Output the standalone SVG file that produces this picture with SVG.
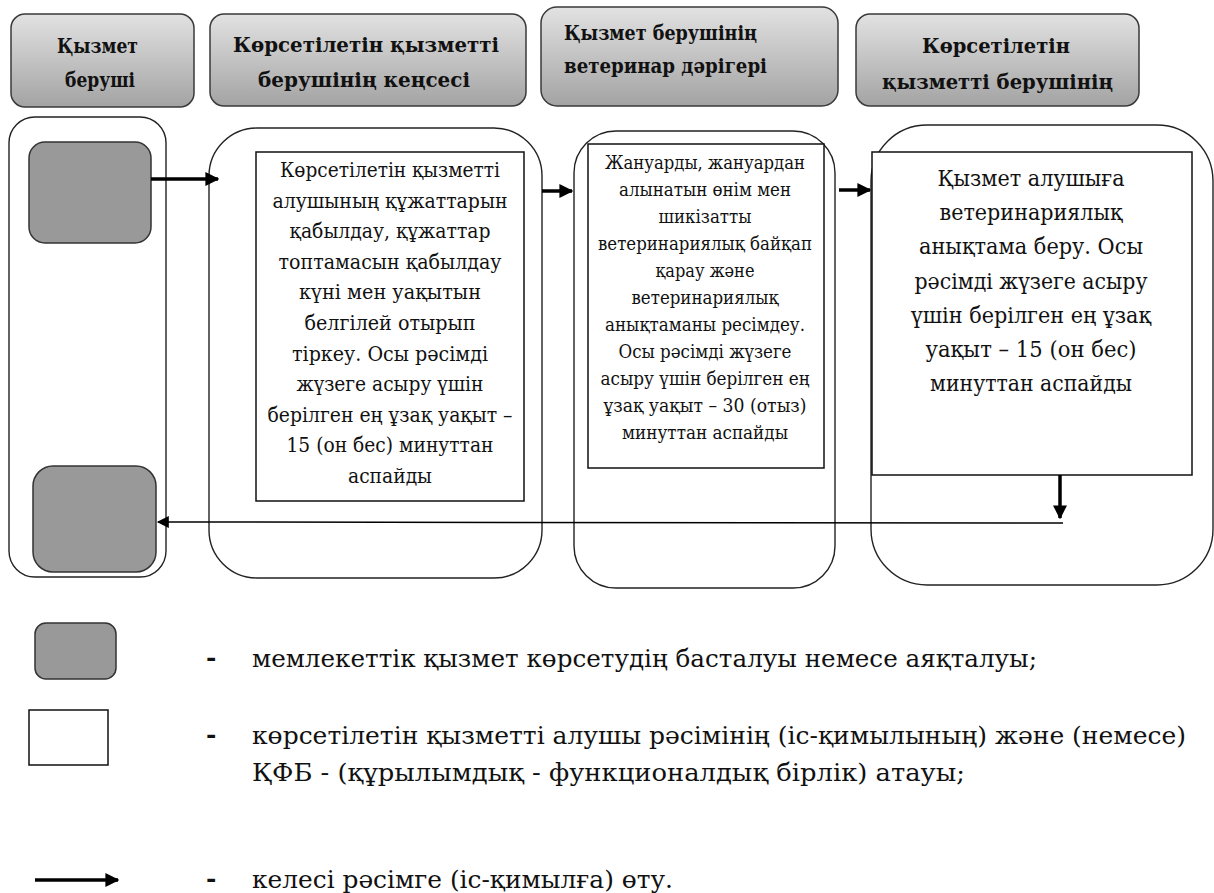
<svg xmlns="http://www.w3.org/2000/svg" width="1214" height="893" viewBox="0 0 1214 893">
<defs>
<linearGradient id="hg" x1="0" y1="0" x2="0" y2="1">
<stop offset="0" stop-color="#e2e2e2"/>
<stop offset="1" stop-color="#a3a3a3"/>
</linearGradient>
<marker id="ah" viewBox="0 0 10 10" refX="9" refY="5" markerWidth="4" markerHeight="4" orient="auto" markerUnits="strokeWidth">
<path d="M0,0 L10,5 L0,10 z" fill="#000"/>
</marker>
<marker id="ah2" viewBox="0 0 10 10" refX="9" refY="5" markerWidth="9" markerHeight="8" orient="auto" markerUnits="strokeWidth">
<path d="M0,0 L10,5 L0,10 z" fill="#000"/>
</marker>
</defs>
<style>
text{font-family:'DejaVu Serif','Liberation Serif',serif;fill:#111}
.hdr{fill:url(#hg);stroke:#3a3a3a;stroke-width:1.5}
.ht{font-weight:bold;font-size:21px}
.lane{fill:none;stroke:#222;stroke-width:1.4}
.gbox{fill:#999;stroke:#333;stroke-width:1.5}
.tbox{fill:#fff;stroke:#111;stroke-width:1.5}
.t2{font-size:20px;text-anchor:middle}
.t3{font-size:18px;text-anchor:middle}
.t4{font-size:22px;text-anchor:middle}
.lg{font-size:25px}
.thick{stroke:#000;stroke-width:3.5;fill:none}
.thin{stroke:#000;stroke-width:1.5;fill:none}
</style>
<rect width="1214" height="893" fill="#fff"/>

<g id="header-1">
<rect class="hdr" x="11" y="14" width="183" height="93" rx="14"/>
<text class="ht" x="57" y="53" textLength="81" lengthAdjust="spacingAndGlyphs">Қызмет</text>
<text class="ht" x="65" y="87" textLength="70" lengthAdjust="spacingAndGlyphs">беруші</text>
</g>
<g id="header-2">
<rect class="hdr" x="210" y="14" width="316" height="92" rx="14"/>
<text class="ht" x="233" y="52" textLength="266" lengthAdjust="spacingAndGlyphs">Көрсетілетін қызметті</text>
<text class="ht" x="258" y="87" textLength="212" lengthAdjust="spacingAndGlyphs">берушінің кеңсесі</text>
</g>
<g id="header-3">
<rect class="hdr" x="541" y="7" width="297" height="99" rx="16"/>
<text class="ht" x="564" y="40" textLength="193" lengthAdjust="spacingAndGlyphs">Қызмет берушінің</text>
<text class="ht" x="564" y="73" textLength="203" lengthAdjust="spacingAndGlyphs">ветеринар дәрігері</text>
</g>
<g id="header-4">
<rect class="hdr" x="856" y="14" width="283" height="92" rx="14"/>
<text class="ht" x="922" y="53" textLength="148" lengthAdjust="spacingAndGlyphs">Көрсетілетін</text>
<text class="ht" x="882" y="89" textLength="231" lengthAdjust="spacingAndGlyphs">қызметті берушінің</text>
</g>

<g id="lane-1"><rect class="lane" x="9" y="117" width="157" height="460" rx="26" stroke="#555"/></g>
<g id="lane-2"><rect class="lane" x="209" y="128" width="333" height="450" rx="48"/></g>
<g id="lane-3"><rect class="lane" x="574" y="131" width="261" height="457" rx="42"/></g>
<g id="lane-4"><rect class="lane" x="871" y="125" width="342" height="460" rx="56"/></g>

<g id="start"><rect class="gbox" x="29" y="142" width="122" height="101" rx="16"/></g>
<g id="end"><rect class="gbox" x="33" y="466" width="123" height="106" rx="20"/></g>

<g id="step-1">
<rect class="tbox" x="256" y="152" width="268" height="349"/>
<text class="t2" x="390" y="177" textLength="220" lengthAdjust="spacingAndGlyphs">Көрсетілетін қызметті</text>
<text class="t2" x="390" y="208" textLength="235" lengthAdjust="spacingAndGlyphs">алушының құжаттарын</text>
<text class="t2" x="390" y="238" textLength="201" lengthAdjust="spacingAndGlyphs">қабылдау, құжаттар</text>
<text class="t2" x="390" y="269" textLength="223" lengthAdjust="spacingAndGlyphs">топтамасын қабылдау</text>
<text class="t2" x="390" y="299" textLength="182" lengthAdjust="spacingAndGlyphs">күні мен уақытын</text>
<text class="t2" x="390" y="330" textLength="171" lengthAdjust="spacingAndGlyphs">белгілей отырып</text>
<text class="t2" x="390" y="361" textLength="196" lengthAdjust="spacingAndGlyphs">тіркеу. Осы рәсімді</text>
<text class="t2" x="390" y="391" textLength="187" lengthAdjust="spacingAndGlyphs">жүзеге асыру үшін</text>
<text class="t2" x="390" y="422" textLength="245" lengthAdjust="spacingAndGlyphs">берілген ең ұзақ уақыт –</text>
<text class="t2" x="390" y="452" textLength="207" lengthAdjust="spacingAndGlyphs">15 (он бес) минуттан</text>
<text class="t2" x="390" y="483" textLength="84" lengthAdjust="spacingAndGlyphs">аспайды</text>
</g>
<g id="step-2">
<rect class="tbox" x="588" y="144" width="236" height="324"/>
<text class="t3" x="705" y="169" textLength="200" lengthAdjust="spacingAndGlyphs">Жануарды, жануардан</text>
<text class="t3" x="705" y="196" textLength="172" lengthAdjust="spacingAndGlyphs">алынатын өнім мен</text>
<text class="t3" x="705" y="223" textLength="93" lengthAdjust="spacingAndGlyphs">шикізатты</text>
<text class="t3" x="705" y="250" textLength="214" lengthAdjust="spacingAndGlyphs">ветеринариялық байқап</text>
<text class="t3" x="705" y="277" textLength="99" lengthAdjust="spacingAndGlyphs">қарау және</text>
<text class="t3" x="705" y="304" textLength="147" lengthAdjust="spacingAndGlyphs">ветеринариялық</text>
<text class="t3" x="705" y="331" textLength="200" lengthAdjust="spacingAndGlyphs">анықтаманы ресімдеу.</text>
<text class="t3" x="705" y="358" textLength="173" lengthAdjust="spacingAndGlyphs">Осы рәсімді жүзеге</text>
<text class="t3" x="705" y="385" textLength="209" lengthAdjust="spacingAndGlyphs">асыру үшін берілген ең</text>
<text class="t3" x="705" y="412" textLength="203" lengthAdjust="spacingAndGlyphs">ұзақ уақыт – 30 (отыз)</text>
<text class="t3" x="705" y="439" textLength="166" lengthAdjust="spacingAndGlyphs">минуттан аспайды</text>
</g>
<g id="step-3">
<rect class="tbox" x="872" y="152" width="320" height="323"/>
<text class="t4" x="1031" y="186" textLength="187" lengthAdjust="spacingAndGlyphs">Қызмет алушыға</text>
<text class="t4" x="1031" y="220" textLength="183" lengthAdjust="spacingAndGlyphs">ветеринариялық</text>
<text class="t4" x="1031" y="254" textLength="224" lengthAdjust="spacingAndGlyphs">анықтама беру. Осы</text>
<text class="t4" x="1031" y="289" textLength="233" lengthAdjust="spacingAndGlyphs">рәсімді жүзеге асыру</text>
<text class="t4" x="1031" y="323" textLength="240" lengthAdjust="spacingAndGlyphs">үшін берілген ең ұзақ</text>
<text class="t4" x="1031" y="357" textLength="211" lengthAdjust="spacingAndGlyphs">уақыт – 15 (он бес)</text>
<text class="t4" x="1031" y="391" textLength="202" lengthAdjust="spacingAndGlyphs">минуттан аспайды</text>
</g>

<g id="connectors">
<line class="thick" x1="151" y1="179" x2="218" y2="179" marker-end="url(#ah)"/>
<line class="thick" x1="542" y1="191" x2="572" y2="191" marker-end="url(#ah)"/>
<line class="thick" x1="839" y1="190" x2="870" y2="190" marker-end="url(#ah)"/>
<line class="thick" x1="1060" y1="475" x2="1060" y2="518" marker-end="url(#ah)"/>
<line class="thin" x1="1063" y1="523" x2="158" y2="522" marker-end="url(#ah2)"/>
</g>

<g id="legend">
<rect class="gbox" x="35" y="623" width="81" height="56" rx="11"/>
<rect class="tbox" x="29" y="710" width="79" height="55"/>
<line class="thick" x1="35" y1="880" x2="118" y2="880" marker-end="url(#ah)"/>
<text class="lg" x="206" y="666" font-weight="bold">-</text>
<text class="lg" x="206" y="743" font-weight="bold">-</text>
<text class="lg" x="206" y="887" font-weight="bold">-</text>
<text class="lg" x="252" y="667" textLength="785" lengthAdjust="spacingAndGlyphs">мемлекеттік қызмет көрсетудің басталуы немесе аяқталуы;</text>
<text class="lg" x="252" y="744" textLength="934" lengthAdjust="spacingAndGlyphs">көрсетілетін қызметті алушы рәсімінің (іс-қимылының) және (немесе)</text>
<text class="lg" x="252" y="781" textLength="713" lengthAdjust="spacingAndGlyphs">ҚФБ -  (құрылымдық - функционалдық бірлік) атауы;</text>
<text class="lg" x="252" y="888" textLength="421" lengthAdjust="spacingAndGlyphs">келесі рәсімге (іс-қимылға) өту.</text>
</g>
</svg>
